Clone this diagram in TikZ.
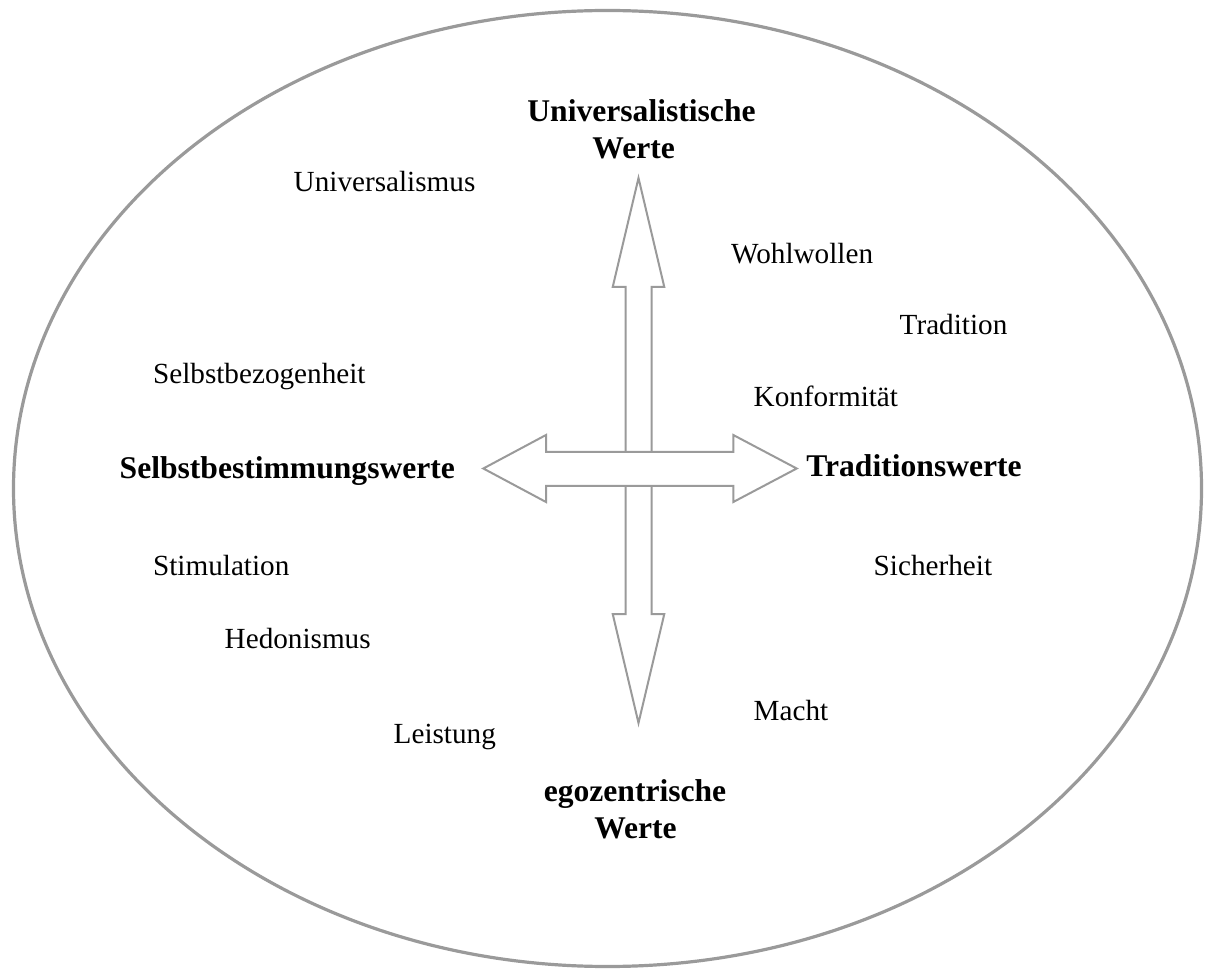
\documentclass[tikz,border=0pt]{standalone}
\usepackage{fontspec}
\setmainfont{Liberation Serif}
\definecolor{linegray}{HTML}{9A9A9A}
\begin{document}
\begin{tikzpicture}[x=0.5pt,y=-0.5pt,
  value/.style={inner sep=0pt,anchor=base west,font=\fontsize{14.6pt}{17pt}\selectfont},
  axis/.style={inner sep=0pt,font=\fontsize{15.8pt}{18pt}\selectfont\bfseries},
  arrowshape/.style={draw=linegray,line width=1pt,fill=white,line join=miter}]
\useasboundingbox (0,0) rectangle (1215,972);
% outer ellipse
\draw[linegray,line width=1.6pt] (607.5,488.5) ellipse [x radius=297pt, y radius=239pt];
% vertical double arrow
\draw[arrowshape] (638.5,178) -- (664.3,287) -- (651.5,287) -- (651.5,614) -- (664.3,614)
  -- (638.5,723) -- (612.7,614) -- (625.7,614) -- (625.7,287) -- (612.7,287) -- cycle;
% horizontal double arrow
\draw[arrowshape] (483.3,468.5) -- (546,435) -- (546,452) -- (733.3,452) -- (733.3,435)
  -- (796.7,468.5) -- (733.3,502) -- (733.3,486) -- (546,486) -- (546,502) -- cycle;
% axis labels
\node[axis,anchor=base] (uw1) at (641.5,121.7) {Universalistische};
\node[axis,anchor=base] (uw2) at (633.7,158.3) {Werte};
\node[axis,anchor=base west] (sb) at (119.3,478.3) {Selbstbestimmungswerte};
\node[axis,anchor=base west] (tw) at (806,476.7) {Traditionswerte};
\node[axis,anchor=base] (ew1) at (635,801.7) {egozentrische};
\node[axis,anchor=base] (ew2) at (635.5,838.5) {Werte};
% values
\node[value] (univ) at (293.3,191.7) {Universalismus};
\node[value] (wohl) at (730.7,263.3) {Wohlwollen};
\node[value] (trad) at (899.3,335) {Tradition};
\node[value] (selbstbez) at (152.7,383.3) {Selbstbezogenheit};
\node[value] (konf) at (753.3,406.7) {Konformität};
\node[value] (stim) at (152.7,575) {Stimulation};
\node[value] (sich) at (873.3,575) {Sicherheit};
\node[value] (hedo) at (224.3,648.3) {Hedonismus};
\node[value] (macht) at (753.3,720) {Macht};
\node[value] (leist) at (393.3,743.3) {Leistung};
\end{tikzpicture}
\end{document}
